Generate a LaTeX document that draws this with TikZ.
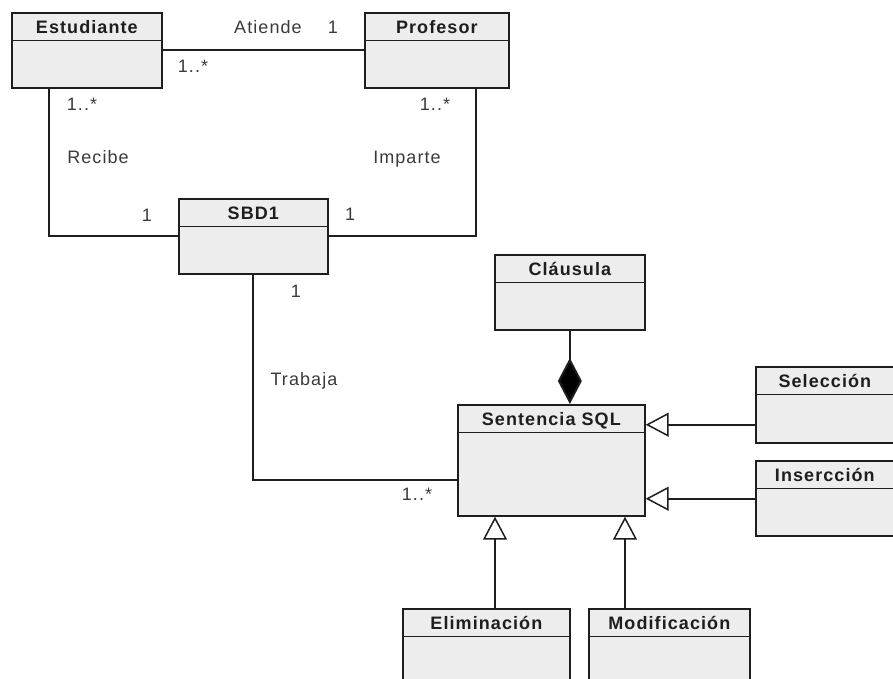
\documentclass[tikz,border=0pt]{standalone}
\usepackage{fontspec}
\setmainfont{Liberation Sans}
\newfontfamily\labelfont[LetterSpace=6]{Liberation Sans}
\newfontfamily\headfont[LetterSpace=6]{Liberation Sans Bold}
\usetikzlibrary{arrows.meta,calc}

\definecolor{boxfill}{HTML}{EDEDED}
\definecolor{inkline}{HTML}{1E1E1E}
\definecolor{inktext}{HTML}{3A3A3A}

\tikzset{
  classbox/.style={draw=inkline, line width=1.7pt, fill=boxfill, inner sep=0pt},
  divider/.style={draw=inkline, line width=1.5pt},
  classtitle/.style={inner sep=0pt, text=inkline, font=\headfont\fontsize{18}{20}\selectfont},
  lbl/.style={inner sep=0pt, text=inktext, font=\labelfont\fontsize{18}{20}\selectfont},
  assoc/.style={draw=inkline, line width=2pt},
  gen/.style={assoc, -{Triangle[open, length=23pt, width=24pt, fill=white, line width=1.5pt]}},
  compose/.style={assoc, -{Diamond[length=46pt, width=24pt, fill=black]}},
}

% UML class box: name, left, top, width, height, title
\newcommand\umlclass[6]{%
  \node[classbox, minimum width=#4pt, minimum height=#5pt, anchor=north west] (#1) at (#2,#3) {};
  \draw[divider] ([yshift=-28.5pt]#1.north west) -- ([yshift=-28.5pt]#1.north east);
  \node[classtitle, anchor=base] (#1-title) at ([yshift=-21.5pt]#1.north) {#6};
}

\begin{document}
\begin{tikzpicture}[x=1pt, y=-1pt]
  \useasboundingbox (0,0) rectangle (893,678);
  \clip (0,0) rectangle (893,678);

  % classes
  \umlclass{est}{11}{12}{150}{75}{Estudiante}
  \umlclass{prof}{364}{12}{144}{75}{Profesor}
  \umlclass{sbd}{178}{198}{149}{75}{SBD1}
  \umlclass{cla}{494}{254}{150}{75}{Cláusula}
  \umlclass{sql}{457}{404}{187}{111}{Sentencia SQL}
  \umlclass{sel}{755}{366}{138}{76}{Selección}
  \umlclass{ins}{755}{460}{138}{75}{Insercción}
  \umlclass{eli}{402}{608}{167}{75}{Eliminación}
  \umlclass{mod}{588}{608}{161}{75}{Modificación}

  % associations
  \draw[assoc] (est.east) -- (prof.west);
  \draw[assoc] ($(est.south west)+(38,0)$) |- (sbd.west);
  \draw[assoc] (sbd.east) -| ($(prof.south west)+(112,0)$);
  \coordinate (sqlin) at ([yshift=37pt]sql.south west);
  \draw[assoc] ($(sbd.south west)+(75,0)$) |- (sqlin);

  % composition
  \draw[compose] (cla.south) -- (cla.south |- sql.north);

  % generalizations
  \coordinate (selp) at ([yshift=19pt]sel.south west);
  \draw[gen] (selp) -- (selp -| sql.east);
  \coordinate (insp) at ([yshift=38pt]ins.south west);
  \draw[gen] (insp) -- (insp -| sql.east);
  \coordinate (elip) at ($(eli.north west)+(93,0)$);
  \draw[gen] (elip) -- (elip |- sql.south);
  \coordinate (modp) at ($(mod.north west)+(37,0)$);
  \draw[gen] (modp) -- (modp |- sql.south);

  % labels
  \node[lbl, anchor=base] (atiende) at (268,33) {Atiende};
  \node[lbl, anchor=base] (m1) at (333,33) {1};
  \node[lbl, anchor=base] (m2) at (193,72) {1..*};
  \node[lbl, anchor=base] (m3) at (82,110) {1..*};
  \node[lbl, anchor=base] (m4) at (435,110) {1..*};
  \node[lbl, anchor=base] (recibe) at (98,163) {Recibe};
  \node[lbl, anchor=base] (imparte) at (407,163) {Imparte};
  \node[lbl, anchor=base] (m5) at (147,221) {1};
  \node[lbl, anchor=base] (m6) at (350,220) {1};
  \node[lbl, anchor=base] (m7) at (296,297) {1};
  \node[lbl, anchor=base] (trabaja) at (304,385) {Trabaja};
  \node[lbl, anchor=base] (m8) at (417,500) {1..*};
\end{tikzpicture}
\end{document}
